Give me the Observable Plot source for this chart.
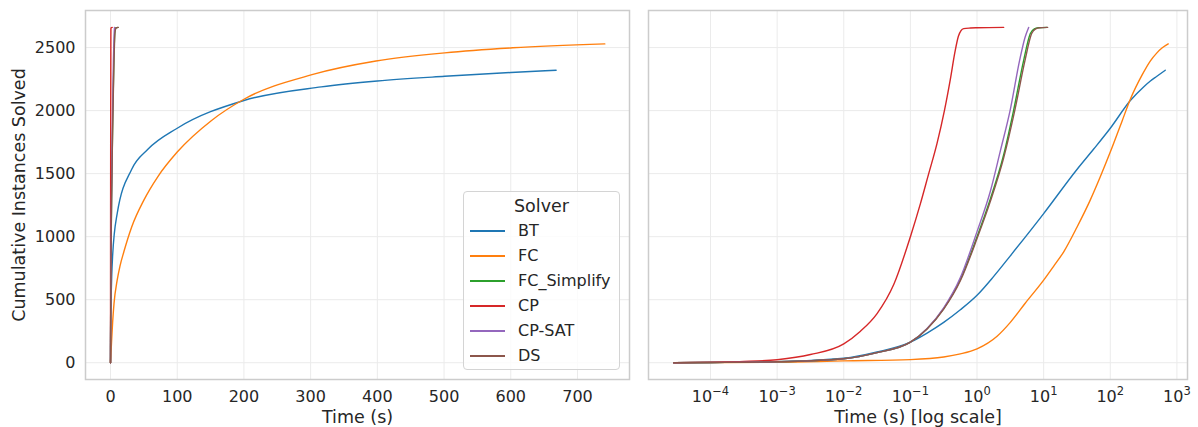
<!DOCTYPE html>
<html><head><meta charset="utf-8">
<script src="https://cdn.jsdelivr.net/npm/d3@7"></script>
<script src="https://cdn.jsdelivr.net/npm/@observablehq/plot@0.6"></script>
<style>
body{margin:0;background:#fff;font-family:"DejaVu Sans",sans-serif;}
#wrap{position:relative;width:1198px;height:427px;display:flex;}
g[aria-label$="axis label"] text{font-size:17.5px;}
.legend{position:absolute;left:463px;top:191px;width:157px;height:179px;box-sizing:border-box;border:1px solid #d4d4d4;border-radius:4px;background:rgba(255,255,255,0.8);color:#262626;font-size:16px;}
.legend .title{font-size:17.5px;text-align:center;height:26px;line-height:23px;padding-top:3px;box-sizing:border-box;}
.legend .row{display:flex;align-items:center;height:25px;}
.legend .sw{display:block;width:35px;height:2px;margin-left:6px;margin-right:13px;}
</style></head><body><div id="wrap"></div>
<script>
// ---- data ----
const solvers = ["BT", "FC", "FC_Simplify", "CP", "CP-SAT", "DS"];
const solverColors = ["#1f77b4", "#ff7f0e", "#2ca02c", "#d62728", "#9467bd", "#8c564b"];

const btTime  = [2.8e-5, 1e-4, 1e-3, 0.01, 0.0316, 0.1, 0.178, 0.316, 0.562, 1, 1.78, 3.16, 10, 31.6, 56, 100, 200, 316, 400, 501, 600, 668];
const btCount = [0, 2, 8, 35, 85, 163, 235, 320, 420, 535, 685, 848, 1183, 1533, 1693, 1860, 2080, 2188, 2235, 2272, 2302, 2320];

const fcTime  = [2.8e-5, 1e-3, 0.01, 0.1, 0.316, 0.562, 1, 2, 3.16, 5.25, 10, 14.1, 20, 31.6, 50, 70.8, 100, 151, 200, 302, 398, 501, 603, 741];
const fcCount = [0, 3, 15, 25, 45, 70, 110, 210, 320, 470, 655, 765, 880, 1075, 1290, 1475, 1671, 1920, 2090, 2285, 2393, 2458, 2498, 2529];

const fcsTime  = [2.8e-5, 1e-4, 1e-3, 0.01, 0.0316, 0.1, 0.178, 0.316, 0.562, 1, 1.585, 2.512, 3.548, 5.012, 6.31, 7.244, 8.318, 11.22];
const fcsCount = [0, 2, 8, 32, 80, 163, 270, 430, 660, 1000, 1300, 1650, 2005, 2399, 2611, 2648, 2657, 2660];

const cpTime  = [2.8e-5, 1e-4, 3.16e-4, 1e-3, 3.16e-3, 0.01, 0.0178, 0.0316, 0.0562, 0.1, 0.141, 0.186, 0.251, 0.324, 0.398, 0.468, 0.525, 0.575, 0.631, 0.794, 1, 2.51];
const cpCount = [0, 5, 10, 24, 65, 150, 250, 390, 620, 1000, 1260, 1490, 1740, 2000, 2250, 2470, 2590, 2635, 2650, 2655, 2657, 2660];

const satTime  = [2.8e-5, 1e-4, 1e-3, 0.01, 0.0316, 0.1, 0.178, 0.316, 0.562, 1, 1.585, 2.239, 3.162, 4.365, 5.248, 5.957];
const satCount = [0, 2, 8, 32, 80, 163, 272, 435, 675, 1040, 1360, 1680, 2010, 2400, 2580, 2660];

const dsTime  = [2.8e-5, 1e-4, 1e-3, 0.01, 0.0316, 0.1, 0.178, 0.316, 0.562, 1, 1.585, 2.512, 3.715, 5.248, 6.607, 7.586, 8.71, 11.48];
const dsCount = [0, 2, 8, 32, 80, 163, 268, 425, 650, 985, 1280, 1625, 2010, 2399, 2611, 2648, 2657, 2660];

const linTicks = [0, 100, 200, 300, 400, 500, 600, 700];
const logTicks = [1e-4, 1e-3, 1e-2, 1e-1, 1e0, 1e1, 1e2, 1e3];
const logTickExponents = ["−4", "−3", "−2", "−1", "0", "1", "2", "3"];
const yTicks = [0, 500, 1000, 1500, 2000, 2500];

// ---- build table ----
const seriesData = [[btTime, btCount], [fcTime, fcCount], [fcsTime, fcsCount], [cpTime, cpCount], [satTime, satCount], [dsTime, dsCount]];
const rows = [];
seriesData.forEach(([ts, cs], k) => ts.forEach((t, i) => rows.push({solver: solvers[k], time: t, count: cs[i]})));
const logLabel = new Map(logTicks.map((t, i) => [Math.round(Math.log10(t)), "10^" + logTickExponents[i]]));

const color = {domain: solvers, range: solverColors};
const style = {fontFamily: "'DejaVu Sans', sans-serif", fontSize: "16px", color: "#262626", background: "transparent", overflow: "visible"};
const gridStyle = {stroke: "#ebebeb", strokeOpacity: 1, strokeWidth: 1};
const yDomain = [-133, 2794];

const left = Plot.plot({
  width: 638, height: 427, marginLeft: 85, marginRight: 9, marginTop: 10, marginBottom: 48,
  style, color,
  x: {domain: [-37.5, 778]},
  y: {domain: yDomain},
  marks: [
    Plot.gridX(linTicks, gridStyle),
    Plot.gridY(yTicks, gridStyle),
    Plot.frame({stroke: "#cccccc", strokeWidth: 1.5}),
    Plot.axisX(linTicks, {tickSize: 0, tickPadding: 11, tickFormat: d => String(d), label: "Time (s)", labelAnchor: "center", labelArrow: "none", labelOffset: 43, fontSize: 16, fill: "#262626"}),
    Plot.axisY(yTicks, {tickSize: 0, tickPadding: 10, tickFormat: d => String(d), label: "Cumulative Instances Solved", labelAnchor: "center", labelArrow: "none", labelOffset: 73, fontSize: 16, fill: "#262626"}),
    Plot.line(rows, {x: "time", y: "count", stroke: "solver", z: "solver", strokeWidth: 1.4, curve: "monotone-x"})
  ]
});

const right = Plot.plot({
  width: 560, height: 427, marginLeft: 10, marginRight: 11, marginTop: 10, marginBottom: 48,
  style, color,
  x: {type: "log", domain: [Math.pow(10, -4.931), Math.pow(10, 3.159)]},
  y: {domain: yDomain, axis: null},
  marks: [
    Plot.gridX(logTicks, gridStyle),
    Plot.gridY(yTicks, gridStyle),
    Plot.frame({stroke: "#cccccc", strokeWidth: 1.5}),
    Plot.axisX(logTicks, {tickSize: 0, tickPadding: 11, tickFormat: d => logLabel.get(Math.round(Math.log10(d))), label: "Time (s) [log scale]", labelAnchor: "center", labelArrow: "none", labelOffset: 43, fontSize: 16, fill: "#262626"}),
    Plot.line(rows, {x: "time", y: "count", stroke: "solver", z: "solver", strokeWidth: 1.4, curve: "monotone-x"})
  ]
});

// render exponents of log tick labels as raised, smaller text
right.querySelectorAll('g[aria-label="x-axis tick label"] text').forEach(t => {
  const s = t.textContent;
  if (!s.includes("^")) return;
  const [base, exp] = s.split("^");
  const tspans = t.querySelectorAll("tspan");
  const holder = tspans.length ? tspans[0] : t;
  holder.textContent = base;
  const sup = document.createElementNS("http://www.w3.org/2000/svg", "tspan");
  sup.setAttribute("font-size", "11.5px");
  sup.setAttribute("dy", "-7");
  sup.textContent = exp;
  holder.appendChild(sup);
});

const wrap = document.getElementById("wrap");
wrap.appendChild(left);
wrap.appendChild(right);

// legend
const lg = document.createElement("div");
lg.className = "legend";
const title = document.createElement("div");
title.className = "title";
title.textContent = "Solver";
lg.appendChild(title);
solvers.forEach((s, i) => {
  const r = document.createElement("div");
  r.className = "row";
  const sw = document.createElement("span");
  sw.className = "sw";
  sw.style.background = solverColors[i];
  const tx = document.createElement("span");
  tx.textContent = s;
  r.appendChild(sw); r.appendChild(tx);
  lg.appendChild(r);
});
wrap.appendChild(lg);
</script></body></html>
